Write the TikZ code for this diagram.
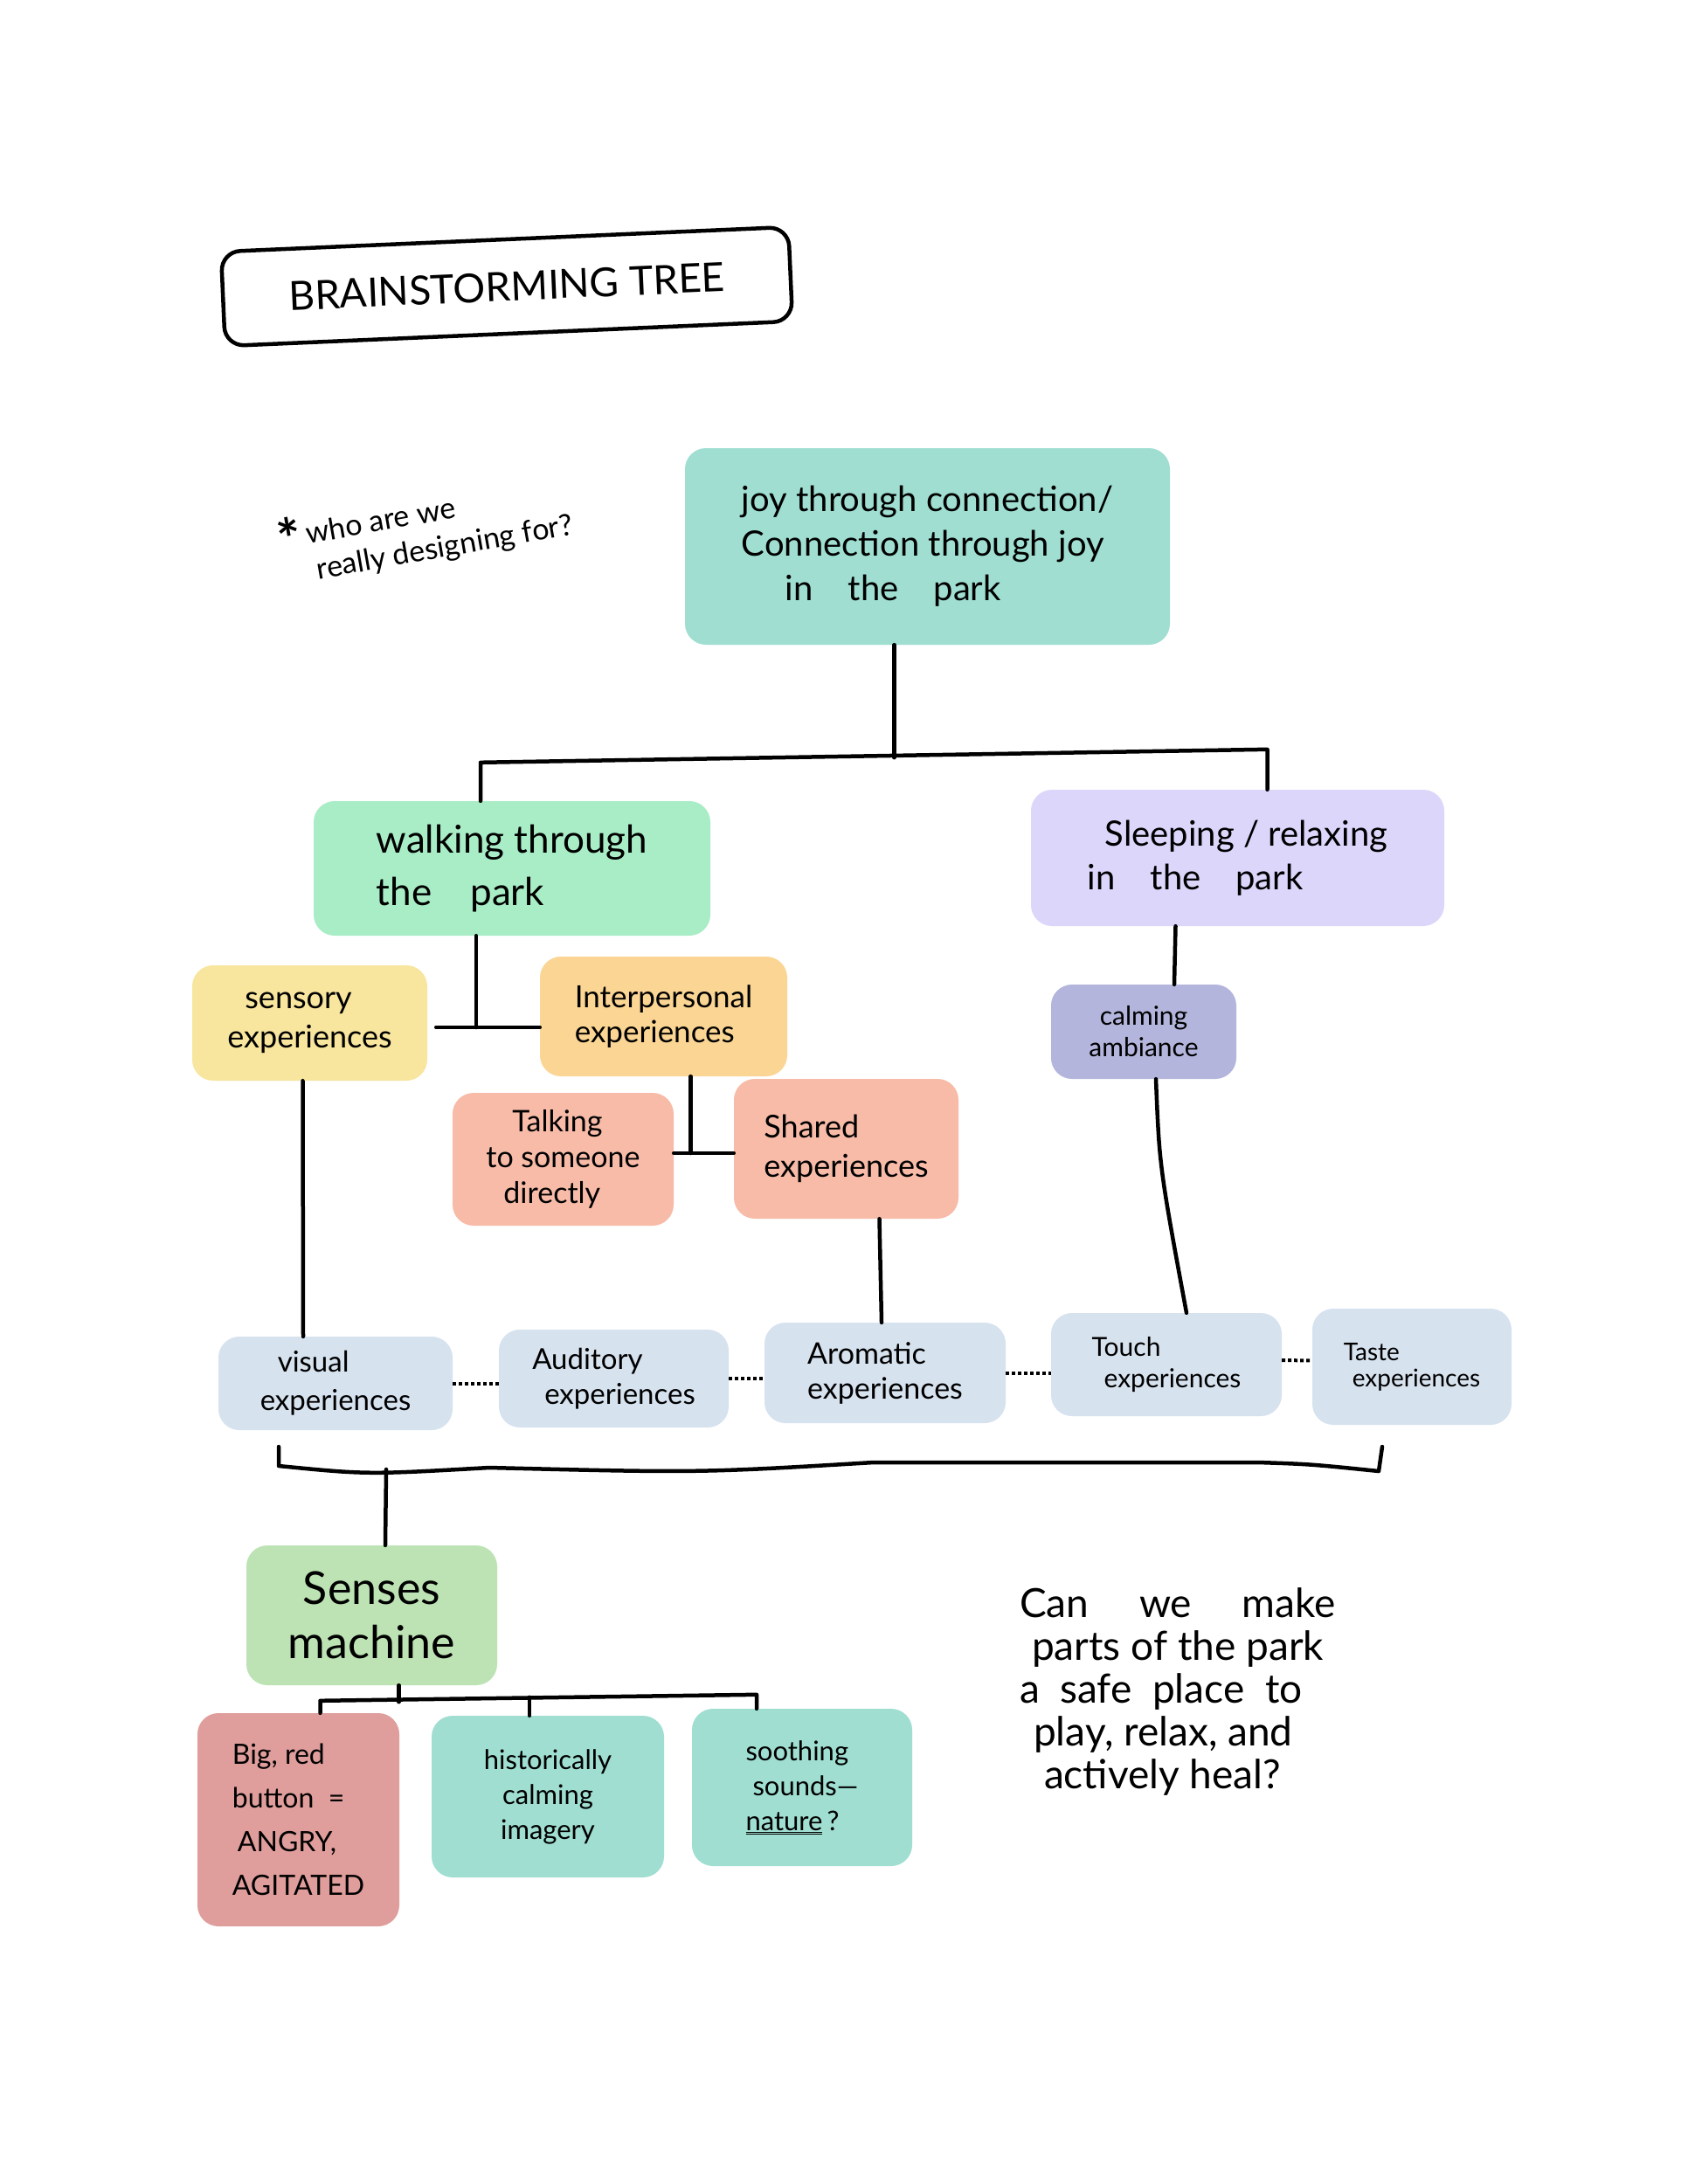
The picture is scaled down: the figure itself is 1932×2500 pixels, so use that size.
\documentclass[tikz,border=0pt]{standalone}
\usepackage{fontspec}
\setmainfont{Lato}
\usetikzlibrary{calc}
\definecolor{cteal}{HTML}{9FDED1}
\definecolor{cmint}{HTML}{A8EDC5}
\definecolor{clav}{HTML}{DDD6FB}
\definecolor{cyel}{HTML}{F8E59E}
\definecolor{corg}{HTML}{FBD593}
\definecolor{csal}{HTML}{F7BBA8}
\definecolor{cperi}{HTML}{B3B5DC}
\definecolor{cblue}{HTML}{D7E2EF}
\definecolor{cgreen}{HTML}{BDE3B4}
\definecolor{cred}{HTML}{DF9E9C}
\newcommand\myfs[2]{\fontsize{#1}{#2}\selectfont}
\tikzset{
  box/.style={rounded corners=24pt, inner sep=0pt, align=left, text=black},
  conn/.style={line width=4.5pt, line cap=round, line join=round, black},
  dots/.style={line width=4pt, dash pattern=on 4pt off 3pt, black},
  note/.style={align=left, text=black, inner sep=0pt}
}
\begin{document}
\begin{tikzpicture}[x=1pt,y=-1pt]
\useasboundingbox (0,0) rectangle (1932,2500);
\fill[white] (0,0) rectangle (1932,2500);

% title
\node[draw, line width=4.5pt, rounded corners=22pt, minimum width=650, minimum height=108,
      rotate=2.5, inner sep=0pt, font=\myfs{46}{52}] (title) at (580,328) {BRAINSTORMING TREE};

% note
\node[note, rotate=10, font=\myfs{34}{42}] (who) at (486,606)
  {\raisebox{-14pt}{\myfs{64}{40}\bfseries *}\,who are we\\\hspace*{38pt}really designing for?};

% boxes
\node[box, fill=cteal, minimum width=555, minimum height=225, font=\myfs{40}{51}] (root) at (1061.5,625.5)
  {joy through connection/\\Connection through joy\\\hspace*{50pt}in\quad the\quad park};
\node[box, fill=cmint, minimum width=454, minimum height=154, font=\myfs{44}{60}] (walk) at (586,994)
  {walking through\\the\quad park};
\node[box, fill=clav, minimum width=473, minimum height=156, font=\myfs{40}{50}] (sleep) at (1416.5,982)
  {\hspace*{20pt}Sleeping / relaxing\\in\quad the\quad park};
\node[box, fill=cyel, minimum width=269, minimum height=132, font=\myfs{36}{45}] (sensory) at (354.5,1171)
  {\hspace*{20pt}sensory\\experiences};
\node[box, fill=corg, minimum width=283, minimum height=137, font=\myfs{35}{40}] (inter) at (759.5,1163.5)
  {Interpersonal\\experiences};
\node[box, fill=csal, minimum width=253, minimum height=152, font=\myfs{34}{41}] (talk) at (644.5,1327)
  {\hspace*{30pt}Talking\\to someone\\\hspace*{20pt}directly};
\node[box, fill=csal, minimum width=257, minimum height=160, font=\myfs{36}{45}] (shared) at (968.5,1315)
  {Shared\\experiences};
\node[box, fill=cperi, minimum width=212, minimum height=108, font=\myfs{30}{36}, align=center] (calm) at (1309,1181)
  {calming\\ambiance};

\node[box, fill=cblue, minimum width=268, minimum height=107, font=\myfs{33}{44}] (visual) at (384,1583.5)
  {\hspace*{20pt}visual\\experiences};
\node[box, fill=cblue, minimum width=263, minimum height=112, font=\myfs{33}{40}] (aud) at (702.5,1578)
  {Auditory\\\hspace*{14pt}experiences};
\node[box, fill=cblue, minimum width=276, minimum height=115, font=\myfs{34}{40}] (arom) at (1013,1571.5)
  {Aromatic\\experiences};
\node[box, fill=cblue, minimum width=264, minimum height=118, font=\myfs{30}{36}] (touch) at (1335,1562)
  {Touch\\\hspace*{14pt}experiences};
\node[box, fill=cblue, minimum width=228, minimum height=133, font=\myfs{28}{30}] (taste) at (1616,1564.5)
  {Taste\\\hspace*{10pt}experiences};

\node[box, fill=cgreen, minimum width=287, minimum height=160, font=\myfs{52}{62}, align=center] (senses) at (425.5,1849)
  {Senses\\machine};
\node[box, fill=cred, minimum width=231, minimum height=244, font=\myfs{32}{50}] (red) at (341.5,2083)
  {Big, red\\button\ \ =\\\hspace*{6pt}ANGRY,\\AGITATED};
\node[box, fill=cteal, minimum width=266, minimum height=185, font=\myfs{31}{40}, align=center] (hist) at (627,2056.5)
  {historically\\calming\\imagery};
\node[box, fill=cteal, minimum width=252, minimum height=180, font=\myfs{31}{40}] (sooth) at (918,2046)
  {soothing\\\hspace*{8pt}sounds—\\\underline{\underline{nature}}\,?};

% closing question
\node[note, font=\myfs{46}{49}] (question) at (1348,1936)
  {Can\quad\ we\quad\ make\\\hspace*{14pt}parts of the park\\a\ \ safe\ \ place\ \ to\\\hspace*{16pt}play, relax, and\\\hspace*{28pt}actively heal?};

% connectors: root to second level
\draw[conn] ([xshift=-38]root.south) -- ++(0,129);
\draw[conn] ([xshift=-36]walk.north) -- ++(0,-44)
   -- ($([xshift=34]sleep.north)+(0,-46)$) -- ([xshift=34]sleep.north);

% walking to sensory / interpersonal
\coordinate (hj) at ($(sensory.east)+(10,5)$);
\coordinate (wj) at ([xshift=-41]walk.south);
\draw[conn] (wj) -- (wj |- hj);
\draw[conn] (hj) -- (inter.west |- hj);

% interpersonal to talking / shared
\coordinate (tj) at ($(talk.east)+(0,-7)$);
\coordinate (ij) at ([xshift=31]inter.south);
\draw[conn] (ij) -- (ij |- tj);
\draw[conn] (tj) -- (shared.west |- tj);

% sleeping to calming
\draw[conn] ([xshift=-71]sleep.south) -- ([xshift=35]calm.north);

% to bottom row
\draw[conn] ([xshift=-8]sensory.south) -- ([xshift=-37]visual.north);
\draw[conn] ([xshift=38]shared.south) -- ([xshift=-4]arom.north);
\draw[conn] ([xshift=14]calm.south) .. controls ($(calm.south)+(18,100)$) .. ([xshift=23]touch.north);

% dotted links
\draw[dots] (visual.east) -- (aud.west |- visual.east);
\draw[dots] (aud.east) -- (arom.west |- aud.east);
\draw[dots] (arom.east) -- (touch.west |- arom.east);
\draw[dots] ($(touch.east)+(0,-5)$) -- ($(taste.west)+(0,-7)$);

% bracket
\coordinate (brL) at (319,1656);
\coordinate (brR) at (1582,1656);
\draw[conn] (brL) -- (319,1678) .. controls (420,1688) .. (560,1680)
   .. controls (800,1686) .. (1000,1674) -- (1440,1674) .. controls (1500,1676) .. (1578,1684) -- (brR);
\draw[conn] (442,1682) -- ([xshift=15.5]senses.north);

% senses machine to children
\draw[conn] ([xshift=31]senses.south) -- ++(0,19);
\draw[conn] ([xshift=25]red.north) -- ++(0,-14) -- ($([xshift=-52]sooth.north)+(0,-16)$) -- ([xshift=-52]sooth.north);
\draw[conn] ([xshift=-21]hist.north) -- ++(0,-21);
\end{tikzpicture}
\end{document}
